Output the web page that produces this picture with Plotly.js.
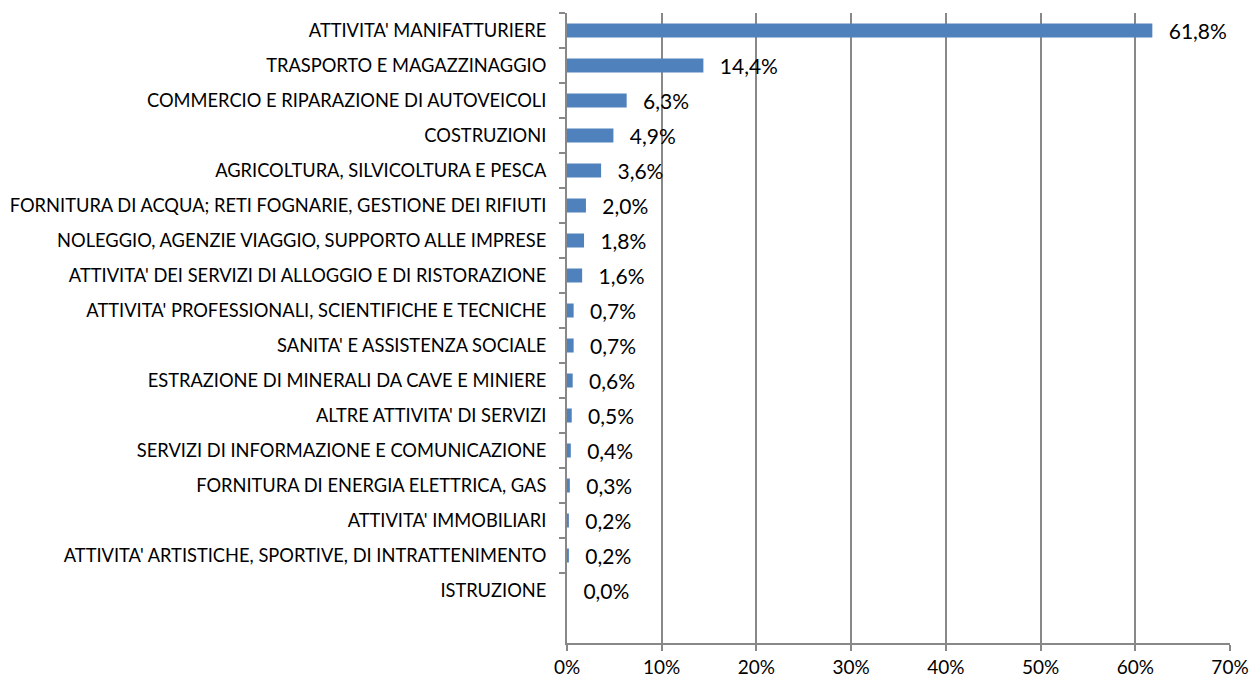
<!DOCTYPE html>
<html><head><meta charset="utf-8">
<script src="https://cdn.plot.ly/plotly-3.0.1.min.js"></script>
<style>html,body{margin:0;padding:0;background:#fff}#chart{width:1250px;height:679px}</style>
</head><body><div id="chart"></div>
<script>
const categories = [
  "ATTIVITA' MANIFATTURIERE",
  "TRASPORTO E MAGAZZINAGGIO",
  "COMMERCIO E RIPARAZIONE DI AUTOVEICOLI",
  "COSTRUZIONI",
  "AGRICOLTURA, SILVICOLTURA E PESCA",
  "FORNITURA DI ACQUA; RETI FOGNARIE, GESTIONE DEI RIFIUTI",
  "NOLEGGIO, AGENZIE VIAGGIO, SUPPORTO ALLE IMPRESE",
  "ATTIVITA' DEI SERVIZI DI ALLOGGIO E DI RISTORAZIONE",
  "ATTIVITA' PROFESSIONALI, SCIENTIFICHE E TECNICHE",
  "SANITA' E ASSISTENZA SOCIALE",
  "ESTRAZIONE DI MINERALI DA CAVE E MINIERE",
  "ALTRE ATTIVITA' DI SERVIZI",
  "SERVIZI DI INFORMAZIONE E COMUNICAZIONE",
  "FORNITURA DI ENERGIA ELETTRICA, GAS",
  "ATTIVITA' IMMOBILIARI",
  "ATTIVITA' ARTISTICHE, SPORTIVE, DI INTRATTENIMENTO",
  "ISTRUZIONE"
];
const values = [61.8, 14.4, 6.3, 4.9, 3.6, 2.0, 1.8, 1.6, 0.7, 0.7, 0.6, 0.5, 0.4, 0.3, 0.2, 0.2, 0.0];
const tickVals = [0, 10, 20, 30, 40, 50, 60, 70];
const tickText = ["0%", "10%", "20%", "30%", "40%", "50%", "60%", "70%"];

const labels = values.map(v => '  \u2009' + v.toFixed(1).replace('.', ',') + '%');
const FONT = 'Lato, "Open Sans", sans-serif';

Plotly.newPlot('chart', [{
  type: 'bar',
  orientation: 'h',
  y: categories,
  x: values,
  width: 0.4,
  marker: {color: '#4F81BD'},
  text: labels,
  textposition: 'outside',
  constraintext: 'none',
  cliponaxis: false,
  textfont: {family: FONT, size: 21, color: '#000'},
  hoverinfo: 'skip'
}], {
  width: 1250, height: 679,
  margin: {l: 567, r: 20, t: 13, b: 36},
  paper_bgcolor: '#fff', plot_bgcolor: '#fff',
  showlegend: false,
  font: {family: FONT, size: 18, color: '#000'},
  xaxis: {
    range: [0, 70], tickvals: tickVals, ticktext: tickText,
    showgrid: true, gridcolor: '#888888', gridwidth: 2,
    showline: true, linecolor: '#888888', linewidth: 2,
    ticks: 'outside', ticklen: 6, tickcolor: '#888888', tickwidth: 2,
    zeroline: false, fixedrange: true,
    tickfont: {family: FONT, size: 19, color: '#000'}
  },
  yaxis: {
    type: 'category', categoryorder: 'array', categoryarray: categories,
    range: [17.5, -0.5],
    showgrid: false, zeroline: false,
    showline: true, linecolor: '#888888', linewidth: 2,
    ticks: 'outside', tickson: 'boundaries', ticklen: 6, tickcolor: '#888888', tickwidth: 2,
    ticklabelstandoff: 15,
    tickfont: {family: FONT, size: 18.3, color: '#000'},
    fixedrange: true
  }
}, {displayModeBar: false, staticPlot: true});
</script></body></html>
